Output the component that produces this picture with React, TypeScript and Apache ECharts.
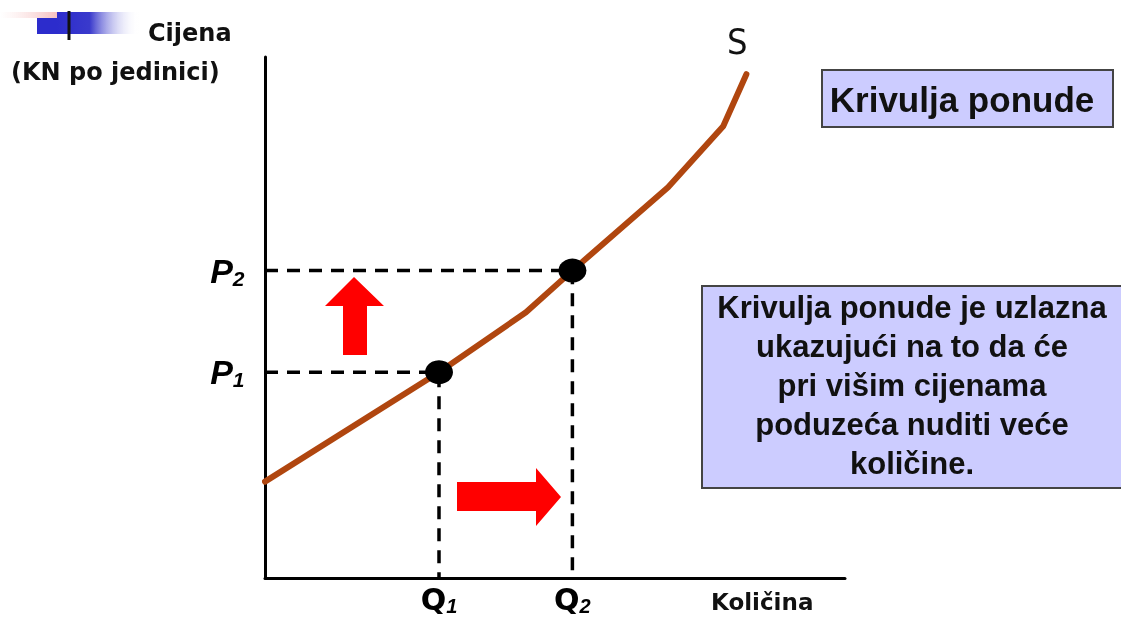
import React, { useEffect, useRef } from "react";
import * as echarts from "echarts";

// Supply curve (quantity on x, price on y), axis range 0..100
const quantity = [0, 30, 45, 53, 69.5, 79, 83];
const price = [18.5, 39.5, 51, 59, 75, 86.7, 96.7];

// Marked points
const markedQ = [30, 53];
const markedP = [39.5, 59];
const pLabels = ["1", "2"];
const qLabels = ["1", "2"];

const curveName = "S";
const yAxisTitle = ["Cijena", "(KN po jedinici)"];
const xAxisTitle = "Količina";
const boxTitle = "Krivulja ponude";
const boxNote = [
  "Krivulja ponude je uzlazna",
  "ukazujući na to da će",
  "pri višim cijenama",
  "poduzeća nuditi veće",
  "količine.",
];

const BROWN = "#B0460F";
const LAVENDER = "#CCCCFF";
const AXIS_FONT = "'DejaVu Sans', sans-serif";
const BOX_FONT = "'Liberation Sans', Arial, sans-serif";

export default function App() {
  const ref = useRef<HTMLDivElement>(null);

  useEffect(() => {
    document.body.style.margin = "0";
    const chart = echarts.init(ref.current!, null, { renderer: "svg" });

    const subRich = {
      p: { fontSize: 34, fontStyle: "italic", fontWeight: "bold", color: "#000", fontFamily: BOX_FONT, lineHeight: 36 },
      ps: { fontSize: 21, fontStyle: "italic", fontWeight: "bold", color: "#000", fontFamily: BOX_FONT, lineHeight: 21, verticalAlign: "bottom" },
      q: { fontSize: 30, fontWeight: "bold", color: "#000", fontFamily: AXIS_FONT, lineHeight: 32 },
      qs: { fontSize: 20, fontStyle: "italic", fontWeight: "bold", color: "#000", fontFamily: BOX_FONT, lineHeight: 20, verticalAlign: "bottom" },
    };

    const dashedSeries = markedQ.map((q, i) => ({
      type: "line",
      data: [
        [0, markedP[i]],
        [q, markedP[i]],
        [q, 0],
      ],
      symbol: "none",
      lineStyle: { color: "#000", width: 3.5, type: [13, 9] },
      z: 2,
      silent: true,
    }));

    const labelData: any[] = [];
    markedQ.forEach((q, i) => {
      labelData.push({
        value: [0, markedP[i]],
        label: { show: true, position: "left", distance: 20, color: "#000", formatter: `{p|P}{ps|${pLabels[i]}}`, rich: subRich },
      });
      labelData.push({
        value: [q, 0],
        label: { show: true, position: "bottom", distance: 5, color: "#000", formatter: `{q|Q}{qs|${qLabels[i]}}`, rich: subRich },
      });
    });
    labelData.push({
      value: [quantity[quantity.length - 1], price[price.length - 1]],
      label: {
        show: true,
        position: "top",
        distance: 0,
        offset: [-9, -14],
        formatter: curveName,
        fontSize: 36,
        fontWeight: "normal",
        color: "#111",
        fontFamily: "'Liberation Sans Narrow', 'DejaVu Sans Condensed', sans-serif",
      },
    });

    const option: any = {
      animation: false,
      grid: { left: 265, top: 57, width: 580, height: 521, containLabel: false },
      xAxis: {
        type: "value",
        min: 0,
        max: 100,
        axisLine: { show: true, onZero: false, lineStyle: { color: "#000", width: 3 } },
        axisTick: { show: false },
        axisLabel: { show: false },
        splitLine: { show: false },
      },
      yAxis: {
        type: "value",
        min: 0,
        max: 100,
        axisLine: { show: true, onZero: false, lineStyle: { color: "#000", width: 3 } },
        axisTick: { show: false },
        axisLabel: { show: false },
        splitLine: { show: false },
      },
      series: [
        ...dashedSeries,
        {
          type: "line",
          data: quantity.map((q, i) => [q, price[i]]),
          symbol: "none",
          lineStyle: { color: BROWN, width: 6, cap: "round", join: "round" },
          z: 3,
          silent: true,
        },
        {
          type: "scatter",
          data: markedQ.map((q, i) => [q, markedP[i]]),
          symbol: "circle",
          symbolSize: [28, 24],
          itemStyle: { color: "#000", opacity: 1 },
          z: 4,
          silent: true,
        },
        {
          type: "scatter",
          data: labelData,
          symbolSize: 1,
          itemStyle: { color: "rgba(0,0,0,0)", opacity: 1 },
          z: 5,
          silent: true,
        },
      ],
      graphic: [
        // top-left decoration
        {
          type: "rect",
          shape: { x: 0, y: 12, width: 57, height: 6 },
          style: {
            fill: new echarts.graphic.LinearGradient(0, 0, 1, 0, [
              { offset: 0, color: "rgba(250,220,220,0)" },
              { offset: 1, color: "#f6c0c0" },
            ]),
          },
        },
        { type: "rect", shape: { x: 37, y: 18, width: 22, height: 16 }, style: { fill: "#2c2ccc" } },
        {
          type: "rect",
          shape: { x: 57, y: 12, width: 82, height: 22 },
          style: {
            fill: new echarts.graphic.LinearGradient(0, 0, 1, 0, [
              { offset: 0, color: "#2c2ccc" },
              { offset: 0.4, color: "#3a3acc" },
              { offset: 1, color: "rgba(255,255,255,0)" },
            ]),
          },
        },
        { type: "line", shape: { x1: 69, y1: 11, x2: 69, y2: 40 }, style: { stroke: "#111", lineWidth: 3 } },
        // axis titles
        {
          type: "text",
          style: { text: yAxisTitle[0], x: 148, y: 33, textVerticalAlign: "middle", fontSize: 24, fontWeight: "bold", fontFamily: AXIS_FONT, fill: "#111" },
        },
        {
          type: "text",
          style: { text: yAxisTitle[1], x: 11, y: 72, textVerticalAlign: "middle", fontSize: 24, fontWeight: "bold", fontFamily: AXIS_FONT, fill: "#111" },
        },
        {
          type: "text",
          style: { text: xAxisTitle, x: 711, y: 602, textVerticalAlign: "middle", fontSize: 23, fontWeight: "bold", fontFamily: AXIS_FONT, fill: "#111" },
        },
        // arrows
        {
          type: "polygon",
          shape: { points: [[354, 277], [384, 306], [367, 306], [367, 355], [343, 355], [343, 306], [325, 306]] },
          style: { fill: "#FF0000" },
        },
        {
          type: "polygon",
          shape: { points: [[457, 482], [536, 482], [536, 468], [561, 497], [536, 526], [536, 511], [457, 511]] },
          style: { fill: "#FF0000" },
        },
        // title box
        {
          type: "rect",
          shape: { x: 822, y: 70, width: 291, height: 57 },
          style: { fill: LAVENDER, stroke: "#444", lineWidth: 2 },
        },
        {
          type: "text",
          style: { text: boxTitle, x: 962, y: 99, textAlign: "center", textVerticalAlign: "middle", fontSize: 35, fontWeight: "bold", fontFamily: BOX_FONT, fill: "#111" },
        },
        // note box
        {
          type: "rect",
          shape: { x: 702, y: 286, width: 430, height: 202 },
          style: { fill: LAVENDER, stroke: "#444", lineWidth: 2 },
        },
        {
          type: "text",
          style: {
            text: boxNote.join("\n"),
            x: 912,
            y: 385,
            textAlign: "center",
            textVerticalAlign: "middle",
            fontSize: 31,
            lineHeight: 39,
            fontWeight: "bold",
            fontFamily: BOX_FONT,
            fill: "#111",
          },
        },
      ],
    };

    chart.setOption(option);
    return () => chart.dispose();
  }, []);

  return <div ref={ref} style={{ position: "fixed", left: 0, top: 0, width: 1121, height: 617 }} />;
}
